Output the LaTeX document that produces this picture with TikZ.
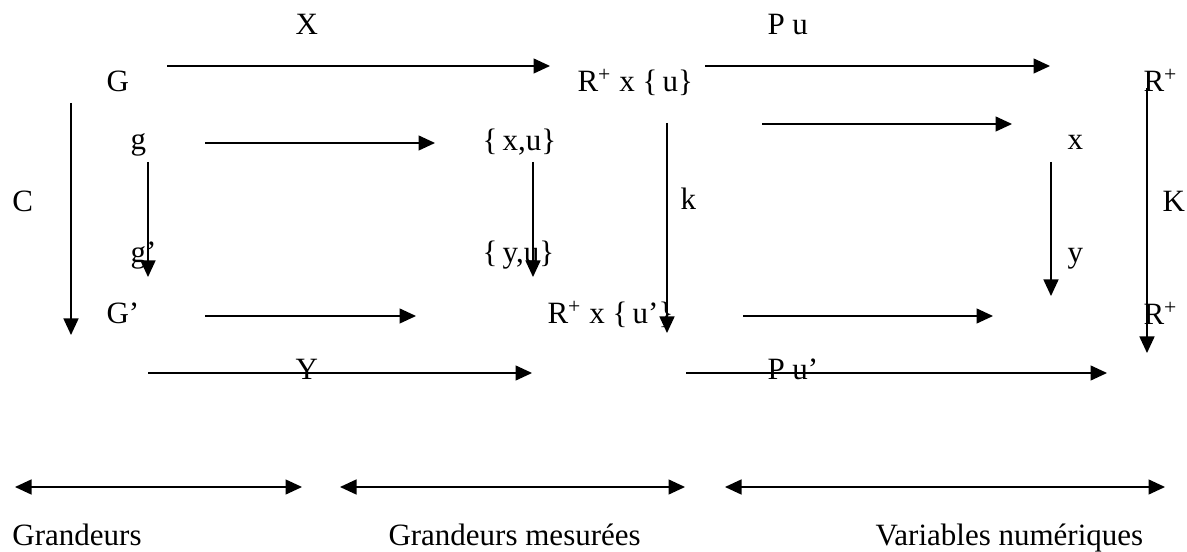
\documentclass[tikz,border=0pt]{standalone}
\usepackage{fontspec}
\setmainfont{Liberation Serif}
\usetikzlibrary{arrows.meta}
\tikzset{
  fl/.style={-{Triangle[length=6.6pt,width=6pt]},line width=0.55pt},
  dfl/.style={{Triangle[length=6.6pt,width=6pt]}-{Triangle[length=6.6pt,width=6pt]},line width=0.55pt},
  lbl/.style={anchor=base west,inner sep=0pt,font=\fontsize{12.4}{14}\selectfont}
}

\begin{document}
\begin{tikzpicture}[x=0.4pt,y=-0.4pt]
\path[use as bounding box] (0,0) rectangle (1187,552);
% labels
\node[lbl] (X) at (295,35) {X};
\node[lbl] (Pu) at (767,35) {P u};
\node[lbl] (G) at (106,92) {G};
\node[lbl] (Ru) at (577,92) {R\textsuperscript{+} x \{\,u\}};
\node[lbl] (Rt) at (1143,92) {R\textsuperscript{+}};
\node[lbl] (g) at (130,150) {g};
\node[lbl] (xu) at (482,151) {\{\,x,u\}};
\node[lbl] (x) at (1067,150) {x};
\node[lbl] (C) at (12,212) {C};
\node[lbl] (k) at (680,210) {k};
\node[lbl] (K) at (1162,212) {K};
\node[lbl] (gp) at (130,263) {g’};
\node[lbl] (yu) at (482,263) {\{\,y,u\}};
\node[lbl] (y) at (1067,263) {y};
\node[lbl] (Gp) at (106,324) {G’};
\node[lbl] (Rup) at (547,324) {R\textsuperscript{+} x \{\,u’\}};
\node[lbl] (Rb) at (1143,325) {R\textsuperscript{+}};
\node[lbl] (Y) at (295,380) {Y};
\node[lbl] (Pup) at (767,380) {P u’};
\node[lbl] (gr) at (12,545) {Grandeurs};
\node[lbl] (grm) at (388,545) {Grandeurs mesurées};
\node[lbl] (vn) at (875,545) {Variables numériques};
% arrow ends
\coordinate (xa) at (167,66);   \coordinate (xb) at (550,66);
\coordinate (pa) at (705,66);   \coordinate (pb) at (1050,66);
\coordinate (ga) at (205,143);  \coordinate (gb) at (435,143);
\coordinate (ra) at (762,124);  \coordinate (rb) at (1012,124);
\coordinate (ca) at (71,103);   \coordinate (cb) at (71,335);
\coordinate (da) at (148,162);  \coordinate (db) at (148,277);
\coordinate (ea) at (533,162);  \coordinate (eb) at (533,277);
\coordinate (ka) at (667,123);  \coordinate (kb) at (667,333);
\coordinate (fa) at (1051,162); \coordinate (fb) at (1051,296);
\coordinate (Ka) at (1147,88);  \coordinate (Kb) at (1147,353);
\coordinate (ha) at (205,316);  \coordinate (hb) at (416,316);
\coordinate (ia) at (743,316);  \coordinate (ib) at (993,316);
\coordinate (ya) at (148,373);  \coordinate (yb) at (532,373);
\coordinate (qa) at (686,373);  \coordinate (qb) at (1107,373);
\coordinate (s1a) at (15,487);  \coordinate (s1b) at (302,487);
\coordinate (s2a) at (340,487); \coordinate (s2b) at (685,487);
\coordinate (s3a) at (725,487); \coordinate (s3b) at (1165,487);
% arrows
\foreach \a/\b in {xa/xb,pa/pb,ga/gb,ra/rb,ca/cb,da/db,ea/eb,ka/kb,fa/fb,Ka/Kb,ha/hb,ia/ib,ya/yb,qa/qb}
  \draw[fl] (\a) -- (\b);
\foreach \a/\b in {s1a/s1b,s2a/s2b,s3a/s3b}
  \draw[dfl] (\a) -- (\b);
\end{tikzpicture}
\end{document}
